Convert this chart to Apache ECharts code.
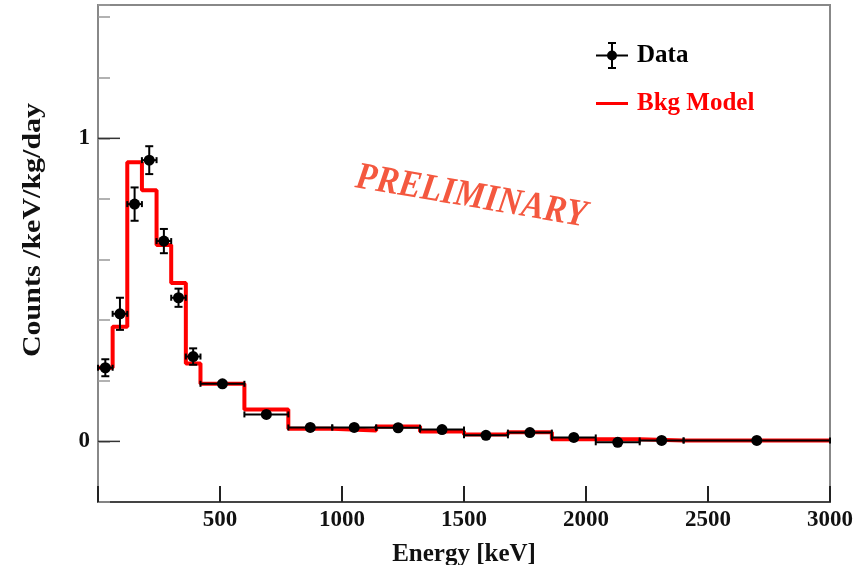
<!DOCTYPE html>
<html>
<head>
<meta charset="utf-8">
<script src="https://cdn.jsdelivr.net/npm/echarts@6/dist/echarts.min.js"></script>
<style>
  html, body { margin: 0; padding: 0; background: #fff; }
  #chart { width: 868px; height: 565px; }
</style>
</head>
<body>
<div id="chart"></div>
<script>
// Energy binning (keV): variable-width bins
const binEdges = [0, 60, 120, 180, 240, 300, 360, 420, 600, 780, 960, 1140, 1320, 1500, 1680, 1860, 2040, 2220, 2400, 3000];

// Measured rate per bin (counts/keV/kg/day) and its uncertainty
const dataValues = [0.243, 0.421, 0.783, 0.928, 0.661, 0.474, 0.280, 0.190, 0.089, 0.046, 0.046, 0.045, 0.039, 0.020, 0.029, 0.013, -0.003, 0.003, 0.003];
const dataErrors = [0.028, 0.053, 0.055, 0.046, 0.040, 0.030, 0.027, 0.010, 0.008, 0.005, 0.005, 0.005, 0.005, 0.004, 0.004, 0.004, 0.004, 0.004, 0.002];

// Background model prediction per bin
const modelValues = [0.243, 0.378, 0.921, 0.829, 0.648, 0.523, 0.257, 0.190, 0.105, 0.042, 0.036, 0.049, 0.033, 0.023, 0.030, 0.007, 0.007, 0.003, 0.003];

// Axis ticks
const xTickLabels = [500, 1000, 1500, 2000, 2500, 3000];
const yMajorTicks = [0, 1];

const serif = '"Liberation Serif", "DejaVu Serif", "Times New Roman", serif';

// Data points: [bin centre, value, bin low, bin high, error]
const dataPoints = dataValues.map((v, i) => [
  (binEdges[i] + binEdges[i + 1]) / 2, v, binEdges[i], binEdges[i + 1], dataErrors[i]
]);

// Step histogram: one point per left edge plus the final right edge
const modelLine = modelValues.map((v, i) => [binEdges[i], v]);
modelLine.push([binEdges[binEdges.length - 1], modelValues[modelValues.length - 1]]);

function renderPoint(params, api) {
  const xc = api.value(0), y = api.value(1);
  const x0 = api.value(2), x1 = api.value(3), e = api.value(4);
  const c = api.coord([xc, y]);
  const l = api.coord([x0, y]);
  const r = api.coord([x1, y]);
  const t = api.coord([xc, y + e]);
  const b = api.coord([xc, y - e]);
  const st = { stroke: '#000', lineWidth: 2 };
  const children = [
    { type: 'line', shape: { x1: l[0], y1: c[1], x2: r[0], y2: c[1] }, style: st },
    { type: 'line', shape: { x1: l[0], y1: c[1] - 3, x2: l[0], y2: c[1] + 3 }, style: st },
    { type: 'line', shape: { x1: r[0], y1: c[1] - 3, x2: r[0], y2: c[1] + 3 }, style: st }
  ];
  if (c[1] - t[1] > 5) {
    children.push(
      { type: 'line', shape: { x1: c[0], y1: t[1], x2: c[0], y2: b[1] }, style: st },
      { type: 'line', shape: { x1: c[0] - 4, y1: t[1], x2: c[0] + 4, y2: t[1] }, style: st },
      { type: 'line', shape: { x1: c[0] - 4, y1: b[1], x2: c[0] + 4, y2: b[1] }, style: st }
    );
  }
  children.push({ type: 'circle', shape: { cx: c[0], cy: c[1], r: 5.5 }, style: { fill: '#000' } });
  return { type: 'group', children };
}

function renderMajorTick(params, api) {
  const p = api.coord([api.value(0), api.value(1)]);
  return {
    type: 'line',
    shape: { x1: p[0], y1: p[1], x2: p[0] + 22, y2: p[1] },
    style: { stroke: '#333', lineWidth: 1.5 }
  };
}

const dataIcon = 'path://M15,0H17V27H15Z M12,0H20V2H12Z M12,25H20V27H12Z M0,12.5H32V14.5H0Z M16,8.5A5,5 0 1,1 16,18.5A5,5 0 1,1 16,8.5Z';
const lineIcon = 'path://M0,0H32V3H0Z';

const chart = echarts.init(document.getElementById('chart'), null, { renderer: 'canvas' });

chart.setOption({
  animation: false,
  backgroundColor: '#fff',
  grid: {
    left: 98, right: 38, top: 5, bottom: 63,
    containLabel: false,
    outerBoundsMode: 'none',
    show: true, borderColor: '#888', borderWidth: 2
  },
  legend: {
    orient: 'vertical',
    left: 596, top: 42,
    itemWidth: 32, itemHeight: 28, itemGap: 22,
    padding: 0,
    textStyle: { fontFamily: serif, fontWeight: 'bold', fontSize: 25, color: '#000', padding: [0, 0, 0, 4] },
    data: [
      { name: 'Data', icon: dataIcon, textStyle: { color: '#000' } },
      { name: 'Bkg Model', icon: lineIcon, textStyle: { color: '#ff0000' } }
    ]
  },
  xAxis: {
    type: 'value',
    min: 0, max: 3000, interval: 500,
    name: 'Energy [keV]',
    nameLocation: 'middle',
    nameGap: 40,
    nameTextStyle: { fontFamily: serif, fontWeight: 'bold', fontSize: 25, color: '#111' },
    axisLine: { onZero: false, lineStyle: { color: '#444', width: 2 } },
    axisTick: { inside: true, length: 16, lineStyle: { color: '#222', width: 2 } },
    axisLabel: {
      margin: 7,
      fontFamily: serif, fontWeight: 'bold', fontSize: 23, color: '#111',
      formatter: v => (xTickLabels.indexOf(v) >= 0 ? String(v) : '')
    },
    splitLine: { show: false }
  },
  yAxis: {
    type: 'value',
    min: -0.2, max: 1.44, interval: 0.2,
    axisLine: { show: true, onZero: false, lineStyle: { color: '#888', width: 2 } },
    axisTick: { inside: true, length: 12, lineStyle: { color: '#999', width: 1.5 } },
    axisLabel: {
      margin: 8,
      fontFamily: serif, fontWeight: 'bold', fontSize: 23, color: '#111',
      formatter: v => {
        for (const m of yMajorTicks) { if (Math.abs(v - m) < 1e-9) return String(m); }
        return '';
      }
    },
    splitLine: { show: false }
  },
  graphic: [
    {
      type: 'text',
      x: 34, y: 230,
      rotation: Math.PI / 2,
      scaleX: 1.2,
      style: {
        text: 'Counts /keV/kg/day',
        fontFamily: serif, fontWeight: 'bold', fontSize: 25, fill: '#111',
        align: 'center', verticalAlign: 'middle'
      }
    },
    {
      type: 'text',
      x: 471, y: 197,
      rotation: -0.17,
      scaleY: 1.12,
      style: {
        text: 'PRELIMINARY',
        fontFamily: serif, fontWeight: 'bold', fontStyle: 'italic', fontSize: 34, fill: '#f4583f',
        align: 'center', verticalAlign: 'middle'
      }
    }
  ],
  series: [
    {
      name: 'Bkg Model',
      type: 'line',
      step: 'end',
      data: modelLine,
      showSymbol: false,
      color: '#ff0000',
      lineStyle: { color: '#ff0000', width: 4 },
      z: 2
    },
    {
      name: 'Data',
      type: 'custom',
      renderItem: renderPoint,
      data: dataPoints,
      encode: { x: 0, y: 1 },
      color: '#000',
      itemStyle: { color: '#000' },
      z: 3
    },
    {
      name: 'yMajorTicks',
      type: 'custom',
      renderItem: renderMajorTick,
      data: yMajorTicks.map(v => [0, v]),
      silent: true,
      z: 4
    }
  ]
});
</script>
</body>
</html>
